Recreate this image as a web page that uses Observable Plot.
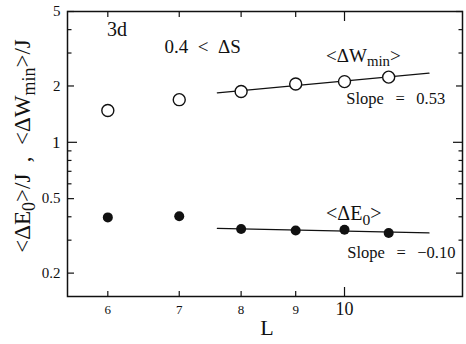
<!DOCTYPE html>
<html><head><meta charset="utf-8">
<script src="https://cdn.jsdelivr.net/npm/d3@7"></script>
<script src="https://cdn.jsdelivr.net/npm/@observablehq/plot@0.6"></script>
<style>body{margin:0;background:#fff}</style>
</head><body><div id="chart"></div>
<script>
// ---- data ----
const sizes = [6, 7, 8, 9, 10, 11];
const wMin  = [1.48, 1.69, 1.87, 2.05, 2.11, 2.23];
const e0    = [0.397, 0.403, 0.344, 0.338, 0.341, 0.328];
const fitFromL = 8;
const fitSpan = [7.6, 12.0];
const xTicksMinor = [6, 7, 8, 9];
const xTicksMajor = [10];
const yTicksMajor = [0.2, 0.5, 2, 5];
const yTicksOne = [1];
const yTicksMinor = [0.3, 0.4, 0.6, 0.7, 0.8, 0.9, 3, 4];

const rows = sizes.map((L, i) => ({L, w: wMin[i], e: e0[i]}));

function powerFit(key) {
  const pts = rows.filter(d => d.L >= fitFromL);
  const xs = pts.map(d => Math.log10(d.L)), ys = pts.map(d => Math.log10(d[key]));
  const mx = d3.mean(xs), my = d3.mean(ys);
  const b = d3.sum(xs, (x, i) => (x - mx) * (ys[i] - my)) / d3.sum(xs, x => (x - mx) ** 2);
  const a = my - b * mx;
  return fitSpan.map(L => ({L, v: 10 ** (a + b * Math.log10(L))}));
}
const fitW = powerFit("w");
const fitE = powerFit("e");

const fmt = d => `${d}`;
const ink = "#111";
const serif = "'Liberation Serif', 'Times New Roman', serif";
const gap = "\u2002\u2009";

const chart = Plot.plot({
  width: 466, height: 344,
  marginLeft: 67, marginRight: 4, marginTop: 11, marginBottom: 48,
  style: {fontFamily: serif, color: ink, background: "#fff"},
  x: {type: "log", domain: [5.5, 12.9], label: null},
  y: {type: "log", domain: [0.15, 5], label: null},
  marks: [
    // x ticks (inward), bottom and top
    ...["bottom", "top"].flatMap(anchor => [
      Plot.axisX(xTicksMinor, {anchor, tickSize: -5, fill: "none", label: null, strokeWidth: 1.2}),
      Plot.axisX(xTicksMajor, {anchor, tickSize: -9, fill: "none", label: null, strokeWidth: 1.2})
    ]),
    Plot.axisX(xTicksMinor, {anchor: "bottom", tickSize: 0, tickPadding: 8, fontSize: 13, label: null, tickFormat: fmt}),
    Plot.axisX(xTicksMajor, {anchor: "bottom", tickSize: 0, tickPadding: 6, fontSize: 18, label: null, tickFormat: fmt}),
    // y ticks (inward), left and right
    ...["left", "right"].flatMap(anchor => [
      Plot.axisY(yTicksMajor, {anchor, tickSize: -7, fill: "none", label: null, strokeWidth: 1.2}),
      Plot.axisY(yTicksOne, {anchor, tickSize: -10, fill: "none", label: null, strokeWidth: 1.2}),
      Plot.axisY(yTicksMinor, {anchor, tickSize: -4.5, fill: "none", label: null, strokeWidth: 1.2})
    ]),
    Plot.axisY(yTicksMajor, {anchor: "left", tickSize: 0, tickPadding: 7, fontSize: 15, label: null, tickFormat: fmt}),
    Plot.axisY(yTicksOne, {anchor: "left", tickSize: 0, tickPadding: 7, fontSize: 17, label: null, tickFormat: fmt}),
    Plot.frame({stroke: ink, strokeWidth: 1.5}),
    // fits
    Plot.line(fitW, {x: "L", y: "v", stroke: ink, strokeWidth: 1.3}),
    Plot.line(fitE, {x: "L", y: "v", stroke: ink, strokeWidth: 1.3}),
    // data
    Plot.dot(rows, {x: "L", y: "w", r: 6, fill: "#fff", stroke: ink, strokeWidth: 1.4}),
    Plot.dot(rows, {x: "L", y: "e", r: 5, fill: ink, stroke: "none"}),
    // annotations
    Plot.text(["3d"], {x: 5.99, y: 3.98, textAnchor: "start", fontSize: 20, fill: ink}),
    Plot.text(["0.4\u2002<\u2002ΔS"], {x: 6.78, y: 3.24, textAnchor: "start", fontSize: 19, fill: ink}),
    Plot.text(["<ΔW_{min}>"], {x: 9.61, y: 2.91, textAnchor: "start", fontSize: 19, fill: ink}),
    Plot.text([`Slope${gap}=${gap}0.53`], {x: 10.04, y: 1.70, textAnchor: "start", fontSize: 16.5, fill: ink}),
    Plot.text(["<ΔE_{0}>"], {x: 9.61, y: 0.416, textAnchor: "start", fontSize: 20, fill: ink}),
    Plot.text([`Slope${gap}=${gap}−0.10`], {x: 10.06, y: 0.257, textAnchor: "start", fontSize: 16.5, fill: ink}),
    // axis titles
    Plot.text(["L"], {frameAnchor: "bottom", textAnchor: "middle", dx: 2, dy: 38, fontSize: 22, fill: ink}),
    Plot.text(["<ΔE_{0}>/J\u2002,\u2002<ΔW_{min}>/J"], {frameAnchor: "left", textAnchor: "middle", rotate: -90, dx: -45, dy: -8, fontSize: 23, fill: ink})
  ]
});

// subscripts: turn "_{...}" into real tspans
d3.select(chart).selectAll("text").each(function () {
  const t = this.textContent;
  if (!t.includes("_{")) return;
  const parts = t.split(/_\{([^}]*)\}/);
  const el = d3.select(this);
  el.text(null);
  let shifted = false;
  parts.forEach((p, i) => {
    if (p === "") return;
    const sp = el.append("tspan").text(p);
    if (i % 2 === 1) { sp.attr("font-size", "78%").attr("dy", "0.3em"); shifted = true; }
    else if (shifted) { sp.attr("dy", "-0.234em"); shifted = false; }
  });
});

document.getElementById("chart").append(chart);
</script>
</body></html>
